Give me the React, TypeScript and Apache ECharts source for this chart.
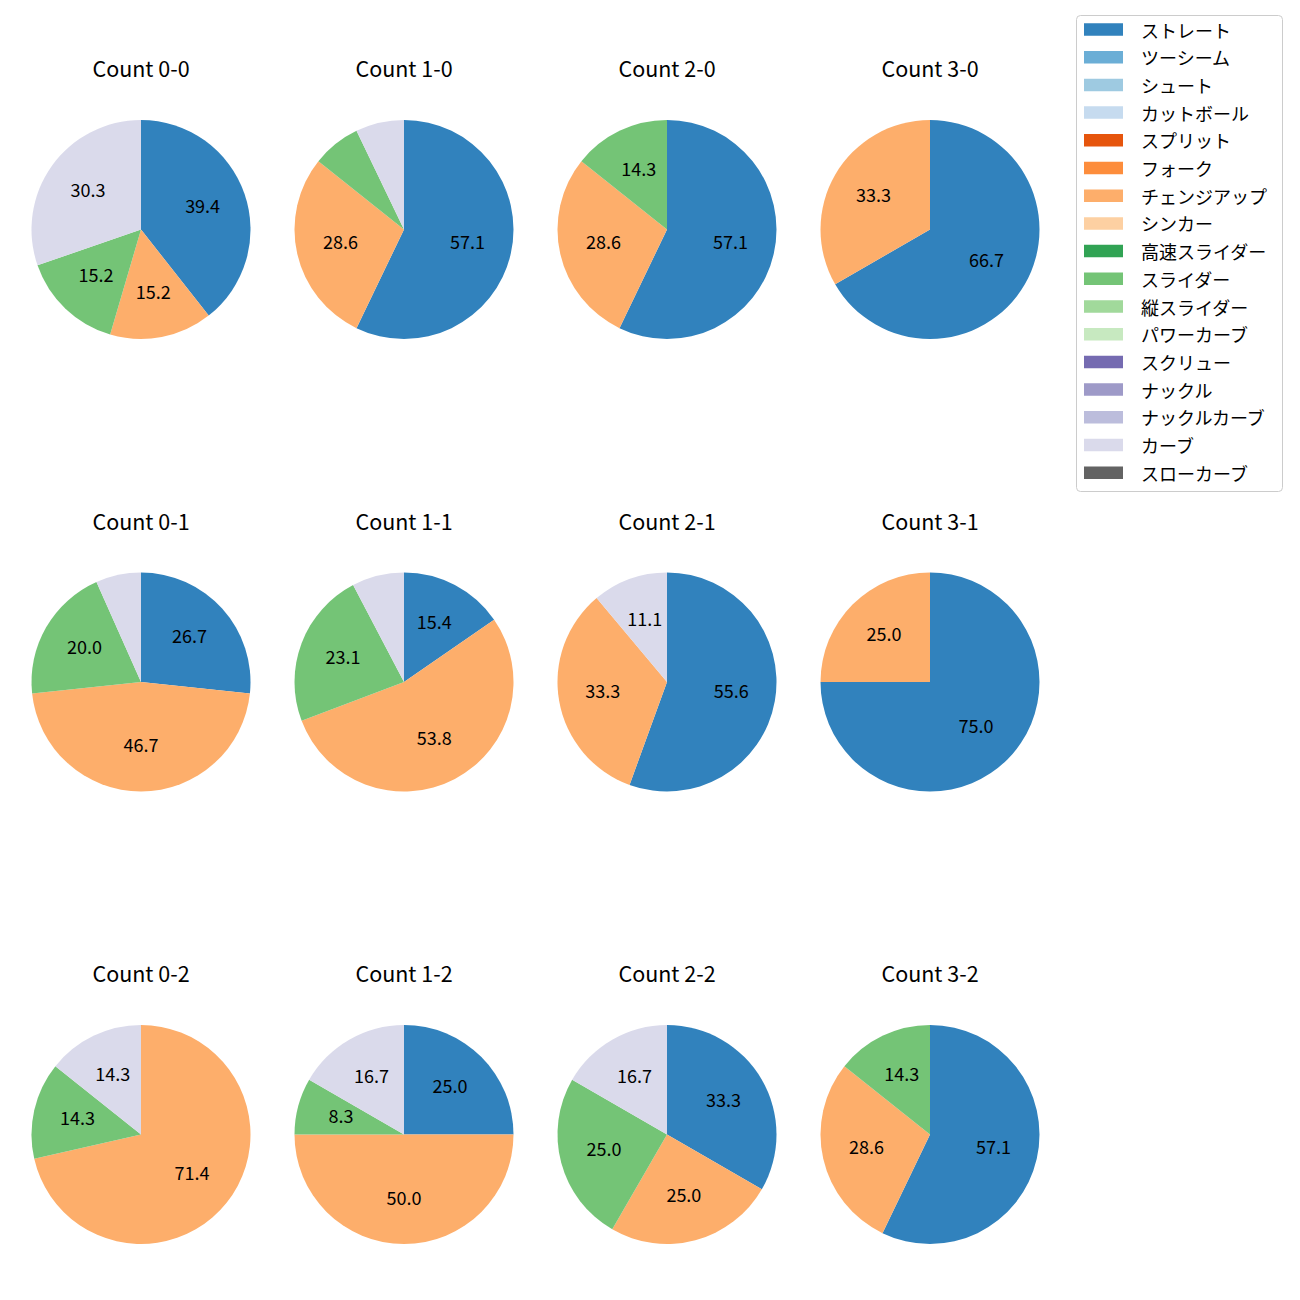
import React, { useEffect, useRef } from "react";
import * as echarts from "echarts";

const categories = [
  "ストレート", "ツーシーム", "シュート", "カットボール", "スプリット", "フォーク",
  "チェンジアップ", "シンカー", "高速スライダー", "スライダー", "縦スライダー",
  "パワーカーブ", "スクリュー", "ナックル", "ナックルカーブ", "カーブ", "スローカーブ",
];
const colors = [
  "#3182bd", "#6baed6", "#9ecae1", "#c6dbef", "#e6550d", "#fd8d3c", "#fdae6b",
  "#fdd0a2", "#31a354", "#74c476", "#a1d99b", "#c7e9c0", "#756bb1", "#9e9ac8",
  "#bcbddc", "#dadaeb", "#636363",
];

const countLabels = ["0-0", "1-0", "2-0", "3-0", "0-1", "1-1", "2-1", "3-1", "0-2", "1-2", "2-2", "3-2"];
const straight = [13, 8, 4, 2, 4, 2, 5, 3, 0, 3, 4, 4];
const changeup = [5, 4, 2, 1, 7, 7, 3, 1, 5, 6, 3, 2];
const slider = [5, 1, 1, 0, 3, 3, 0, 0, 1, 1, 3, 1];
const curve = [10, 1, 0, 0, 1, 1, 1, 0, 1, 2, 2, 0];

const pitchSeries: { name: string; values: number[] }[] = [
  { name: "ストレート", values: straight },
  { name: "チェンジアップ", values: changeup },
  { name: "スライダー", values: slider },
  { name: "カーブ", values: curve },
];

const FONT = "Noto Sans CJK JP";
const colX = [141, 404, 667, 930];
const rowY = [229.5, 682, 1134.5];
const R = 109.5;

export default function App() {
  const ref = useRef<HTMLDivElement>(null);
  useEffect(() => {
    if (!ref.current) return;
    const chart = echarts.init(ref.current, undefined, { renderer: "svg" });
    const series: any[] = [];
    const titles: any[] = [];
    countLabels.forEach((c, i) => {
      const cx = colX[i % 4];
      const cy = rowY[Math.floor(i / 4)];
      const items = pitchSeries
        .filter((p) => p.values[i] > 0)
        .map((p) => ({
          name: p.name,
          value: p.values[i],
          itemStyle: { color: colors[categories.indexOf(p.name)] },
        }));
      const total = items.reduce((s, d) => s + d.value, 0);
      series.push({
        type: "pie",
        center: [cx, cy],
        radius: [0, R],
        startAngle: 90,
        clockwise: true,
        silent: true,
        label: { show: false },
        labelLine: { show: false },
        itemStyle: { borderWidth: 0 },
        emphasis: { disabled: true },
        data: items,
      });
      series.push({
        type: "pie",
        center: [cx, cy - 3],
        radius: [R * 0.2 - 7, R],
        startAngle: 90,
        clockwise: true,
        silent: true,
        labelLine: { show: false },
        emphasis: { disabled: true },
        itemStyle: { color: "rgba(0,0,0,0)", borderWidth: 0 },
        label: {
          show: true,
          position: "inside",
          fontFamily: FONT,
          fontSize: 18,
          color: "#000",
          formatter: (p: any) => {
            const pct = (p.value / total) * 100;
            return pct >= 8 ? pct.toFixed(1) : "";
          },
        },
        data: items.map((d) => ({ name: d.name, value: d.value })),
      });
      titles.push({
        text: "Count " + c,
        left: cx,
        top: cy - 172.5,
        padding: 0,
        textAlign: "center",
        textStyle: { fontFamily: FONT, fontSize: 21.5, fontWeight: "normal", color: "#000" },
      });
    });

    const legendX = 1076.5;
    const legendY = 15.5;
    const step = 27.7;
    const graphics: any[] = [
      {
        type: "rect",
        shape: { x: legendX, y: legendY, width: 206, height: 476, r: 4 },
        style: { fill: "rgba(255,255,255,0.8)", stroke: "#cccccc", lineWidth: 1 },
      },
    ];
    categories.forEach((name, k) => {
      const yc = 29.5 + k * step;
      graphics.push({
        type: "rect",
        shape: { x: 1084, y: yc - 6.25, width: 39, height: 12.5 },
        style: { fill: colors[k] },
      });
      graphics.push({
        type: "text",
        x: 1141,
        y: yc,
        style: {
          text: name,
          fontFamily: FONT,
          fontSize: 18,
          fill: "#000",
          align: "left",
          verticalAlign: "middle",
        },
      });
    });

    chart.setOption({
      animation: false,
      backgroundColor: "#ffffff",
      title: titles,
      series,
      graphic: graphics,
    });
    return () => chart.dispose();
  }, []);
  return (
    <div
      ref={ref}
      style={{ position: "absolute", left: 0, top: 0, width: 1300, height: 1300 }}
    />
  );
}
